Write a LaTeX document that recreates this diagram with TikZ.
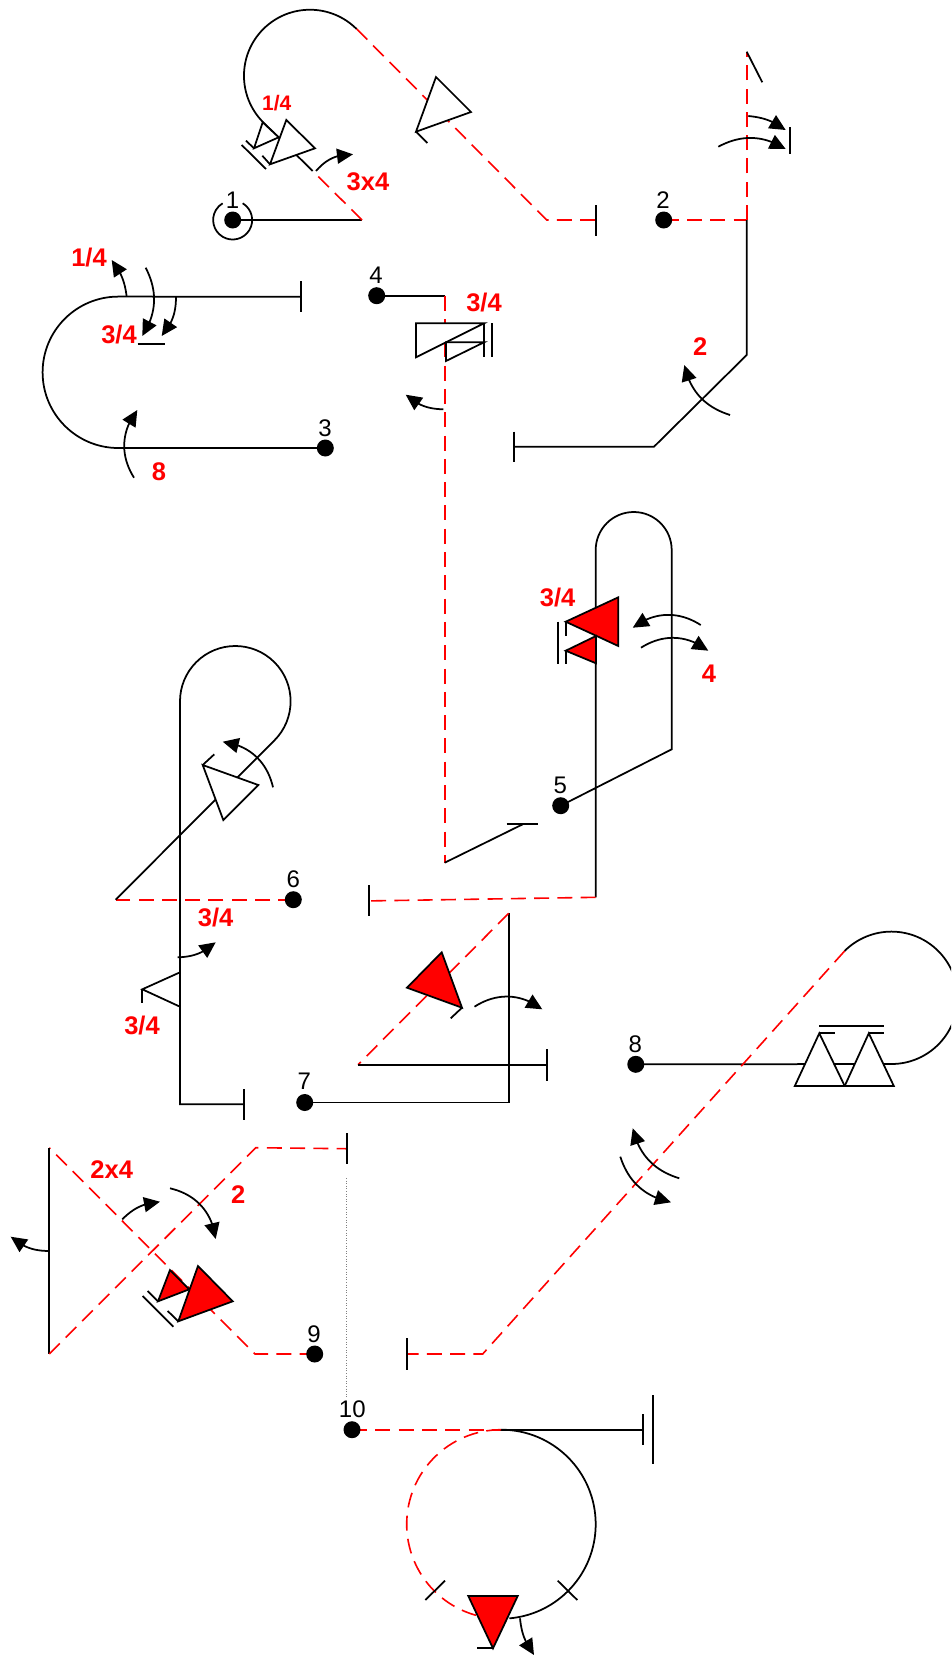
\documentclass[tikz,border=0pt]{standalone}
\usepackage{fontspec}
\setmainfont{Liberation Sans}
\usetikzlibrary{arrows.meta,bending}
\definecolor{rd}{RGB}{255,0,0}
\tikzset{
  ln/.style={draw=black,line width=1.75pt,line join=miter},
  thn/.style={draw=black,line width=1.75pt},
  redd/.style={draw=rd,line width=1.6pt,dash pattern=on 15pt off 8.3pt},
  wtri/.style={draw=black,fill=white,line width=1.75pt,line join=miter},
  rtri/.style={draw=black,fill=rd,line width=1.75pt,line join=miter},
  arr/.style={draw=black,line width=1.75pt,-{Triangle[length=16pt,width=15pt,flex]}},
  dot/.style={circle,fill=black,inner sep=0pt,minimum size=17pt},
  num/.style={inner sep=0pt,text=black,font=\fontsize{24}{24}\selectfont},
  rlab/.style={inner sep=0pt,text=rd,font=\fontsize{25.5}{26}\selectfont\bfseries},
  rsm/.style={inner sep=0pt,text=rd,font=\fontsize{21}{21}\selectfont\bfseries},
}
\begin{document}
\begin{tikzpicture}[x=1pt,y=-1pt]
\clip (0,0) rectangle (951,1655);
% stations
\coordinate (c1) at (232.7,220);
\coordinate (c2) at (663.7,220);
\coordinate (c3) at (325.3,448);
\coordinate (c4) at (376.7,295.7);
\coordinate (c5) at (560.7,805.7);
\coordinate (c6) at (293.3,899.7);
\coordinate (c7) at (304.7,1102.5);
\coordinate (c8) at (635.8,1064.3);
\coordinate (c9) at (314.7,1354);
\coordinate (c10) at (352,1429.7);

%%% yarn 1
\draw[ln] (c1) -- (362,220);
\draw[redd] (362,220) -- (312.7,171);
\draw[ln] (312.7,171) -- (263.3,122.4) arc[start angle=135,end angle=315,radius=66];
\draw[redd] (356.7,29) -- (546.7,220) -- (595.7,220);
\draw[thn] (595.7,205) -- (595.7,236);
\draw[wtri] (436,77) -- (471,112) -- (416,131.7) -- cycle;
\draw[thn] (416,131.7) -- (427.3,143);
\draw[wtri] (262.7,122.3) -- (278.7,137.3) -- (254,148.3) -- cycle;
\draw[thn] (246,140.7) -- (254,148.3);
\draw[wtri] (286.3,120) -- (315,148.3) -- (270,164.3) -- cycle;
\draw[thn] (262.3,155.7) -- (270,164.3);
\draw[thn] (241.7,145) -- (266,169);
\draw[ln] (242.7,203.3) arc[start angle=-59,end angle=239,radius=19.5];
\draw[arr] (316,171) to[bend left=25] (353,154.3);

%%% yarn 2
\draw[redd] (c2) -- (746.7,220);
\draw[redd] (746.7,220) -- (746.7,51.7);
\draw[ln] (746.7,220) -- (746.7,355) -- (654,446.7) -- (514.3,446.7);
\draw[thn] (514.3,431.7) -- (514.3,462);
\draw[thn] (746.7,51.7) -- (762.3,82.3);
\draw[thn] (790.3,127.3) -- (790.3,154.3);
\draw[arr] (748.3,116) to[bend left=15] (785.7,130);
\draw[arr] (718.3,146.7) to[bend left=30] (785.7,149);
\draw[arr] (730,415) to[bend left=30] (684.3,365);

%%% yarn 3
\draw[ln] (c3) -- (118.3,448) arc[start angle=90,end angle=270,radius=75.7] -- (301,296.7);
\draw[thn] (301,281.3) -- (301,312.3);
\draw[thn] (137.7,344) -- (165,344);
\draw[arr] (126.7,296.7) to[bend right=15] (111.7,260);
\draw[arr] (145.7,267.7) to[bend left=30] (142.3,336);
\draw[arr] (176,296.7) to[bend left=20] (161.7,336);
\draw[arr] (134,477.7) to[bend left=35] (137.3,410);

%%% yarn 4
\draw[ln] (c4) -- (444.7,295.7);
\draw[redd] (444.7,295.7) -- (444.7,862.7);
\draw[ln] (444.7,862.7) -- (522.7,824.3);
\draw[thn] (506.7,824.3) -- (537.7,824.3);
\draw[wtri] (416,323.3) -- (484,323.3) -- (416,357.3) -- cycle;
\draw[wtri] (446,342.3) -- (484,342.3) -- (446,361) -- cycle;
\draw[thn] (484,323.3) -- (484,357.3);
\draw[thn] (492,323.3) -- (492,357.3);
\draw[arr] (443.3,409.3) to[bend left=20] (405.7,394.7);

%%% yarn 5
\draw[ln] (c5) -- (671.7,749.3) -- (671.7,550) arc[start angle=0,end angle=-180,radius=38] -- (595.7,897.3);
\draw[redd] (595.7,897.3) -- (369,900.9);
\draw[thn] (369,885) -- (369,916);
\draw[rtri] (618.3,597.3) -- (618.3,646) -- (565.7,621.7) -- cycle;
\draw[rtri] (596,636) -- (596,663.3) -- (565.7,650.7) -- cycle;
\draw[thn] (565.7,621.7) -- (565.7,636);
\draw[thn] (565.7,650.7) -- (565.7,664.3);
\draw[thn] (557.7,621.7) -- (557.7,664.3);
\draw[arr] (700.7,625) to[bend right=35] (632.7,627.7);
\draw[arr] (641,647.7) to[bend left=35] (708.3,650.7);

%%% yarn 6
\draw[redd] (c6) -- (115.7,899.7);
\draw[ln] (115.7,899.7) -- (274.4,740.4) arc[start angle=45,end angle=-180,radius=55.3] -- (180,1104.3) -- (244,1104.3);
\draw[thn] (244,1089.3) -- (244,1120);
\draw[wtri] (202.7,765) -- (258.3,785) -- (223.3,820) -- cycle;
\draw[thn] (202.7,765) -- (214.3,754.3);
\draw[thn] (180,972.3) -- (142.3,989.3) -- (180,1006.7);
\draw[thn] (142.3,989.3) -- (142.3,1002.7);
\draw[arr] (273,787.3) to[bend right=35] (222.7,741.7);
\draw[arr] (177.7,957.3) to[bend right=20] (215.7,942.3);

%%% yarn 7
\draw[ln] (c7) -- (508.7,1102.5) -- (508.7,913.3);
\draw[redd] (508.7,913.3) -- (358,1064.7);
\draw[ln] (358,1064.7) -- (547,1064.7);
\draw[thn] (547,1049.3) -- (547,1080.7);
\draw[rtri] (441.7,952.3) -- (462,1007.7) -- (407,987.7) -- cycle;
\draw[thn] (462,1007.7) -- (450.7,1018.3);
\draw[arr] (474.5,1006.7) to[bend left=35] (542.3,1009.3);

%%% yarn 8
\draw[ln] (c8) -- (891.4,1064) arc[start angle=90,end angle=-135,radius=66.2];
\draw[redd] (844.6,951) -- (482.7,1354) -- (406.7,1354);
\draw[thn] (406.7,1338.3) -- (406.7,1369.7);
\draw[wtri] (819.3,1033.3) -- (794.8,1086) -- (844.7,1086) -- cycle;
\draw[wtri] (868.8,1033.3) -- (844.7,1086) -- (893.8,1086) -- cycle;
\draw[thn] (819.3,1033.3) -- (835,1033.3);
\draw[thn] (868.8,1033.3) -- (884.4,1033.3);
\draw[thn] (819.3,1026) -- (884.4,1026);
\draw[arr] (679.3,1178.3) to[bend left=30] (632.7,1128.3);
\draw[arr] (620.3,1156.7) to[bend right=30] (671,1202.3);

%%% yarn 9
\draw[redd] (c9) -- (255,1354) -- (49.3,1147.7);
\draw[ln] (49.3,1147.7) -- (49.3,1354);
\draw[redd] (49.3,1354) -- (255.7,1147.7) -- (346.7,1148.7);
\draw[thn] (346.7,1133.3) -- (346.7,1164.3);
\draw[draw=gray,line width=0.6pt,dotted] (346.7,1178) -- (346.7,1396.7);
\draw[rtri] (170,1270) -- (189.3,1289.3) -- (158,1301.3) -- cycle;
\draw[thn] (158,1301.3) -- (147.7,1291);
\draw[rtri] (198,1266) -- (232.7,1301.3) -- (178.3,1321.3) -- cycle;
\draw[thn] (178.3,1321.3) -- (167.7,1311);
\draw[thn] (142.7,1296) -- (173.3,1326.7);
\draw[arr] (122.3,1219.3) to[bend left=20] (160,1201.7);
\draw[arr] (170,1188.3) to[bend left=35] (215.7,1239);
\draw[arr] (49.3,1251) to[bend left=20] (10.7,1236.7);

%%% yarn 10
\draw[redd] (c10) -- (500,1429.7);
\draw[ln] (500,1429.7) -- (643.3,1429.7);
\draw[thn] (643.3,1414) -- (643.3,1445);
\draw[thn] (653,1395) -- (653,1464);
\draw[ln] (501.2,1429.7) arc[start angle=-90,end angle=85,radius=94.5];
\draw[redd] (501.2,1429.7) arc[start angle=-90,end angle=-255,radius=94.5];
\draw[thn] (425.3,1600) -- (445,1580.7);
\draw[thn] (557.7,1580.7) -- (577.3,1600);
\draw[rtri] (468.3,1596) -- (517.7,1596) -- (493,1648.3) -- cycle;
\draw[thn] (493,1648.3) -- (477.3,1648.3);
\draw[arr] (520,1618.3) to[bend right=15] (534,1655);

%%% stations on top
\node[dot] (n1) at (c1) {};
\node[dot] (n2) at (c2) {};
\node[dot] (n3) at (c3) {};
\node[dot] (n4) at (c4) {};
\node[dot] (n5) at (c5) {};
\node[dot] (n6) at (c6) {};
\node[dot] (n7) at (c7) {};
\node[dot] (n8) at (c8) {};
\node[dot] (n9) at (c9) {};
\node[dot] (n10) at (c10) {};
\node[num] (t1) at (232.5,200) {1};
\node[num] (t2) at (663,200) {2};
\node[num] (t3) at (325,428) {3};
\node[num] (t4) at (376,275) {4};
\node[num] (t5) at (560.3,785) {5};
\node[num] (t6) at (293.3,879) {6};
\node[num] (t7) at (304.3,1081.7) {7};
\node[num] (t8) at (635.4,1044.3) {8};
\node[num] (t9) at (314,1334) {9};
\node[num] (t10) at (352.3,1409.3) {10};

%%% red labels
\node[rsm] (l1) at (276.7,102.7) {1/4};
\node[rlab] (l2) at (368,182) {3x4};
\node[rlab] (l3) at (89,258) {1/4};
\node[rlab] (l4) at (119,335) {3/4};
\node[rlab] (l5) at (159,471.7) {8};
\node[rlab] (l6) at (484,303) {3/4};
\node[rlab] (l7) at (700.3,347) {2};
\node[rlab] (l8) at (557.7,597.3) {3/4};
\node[rlab] (l9) at (709,673.3) {4};
\node[rlab] (l10) at (215.7,917.7) {3/4};
\node[rlab] (l11) at (142,1025.7) {3/4};
\node[rlab] (l12) at (111.7,1170) {2x4};
\node[rlab] (l13) at (238.3,1195) {2};
\end{tikzpicture}
\end{document}
